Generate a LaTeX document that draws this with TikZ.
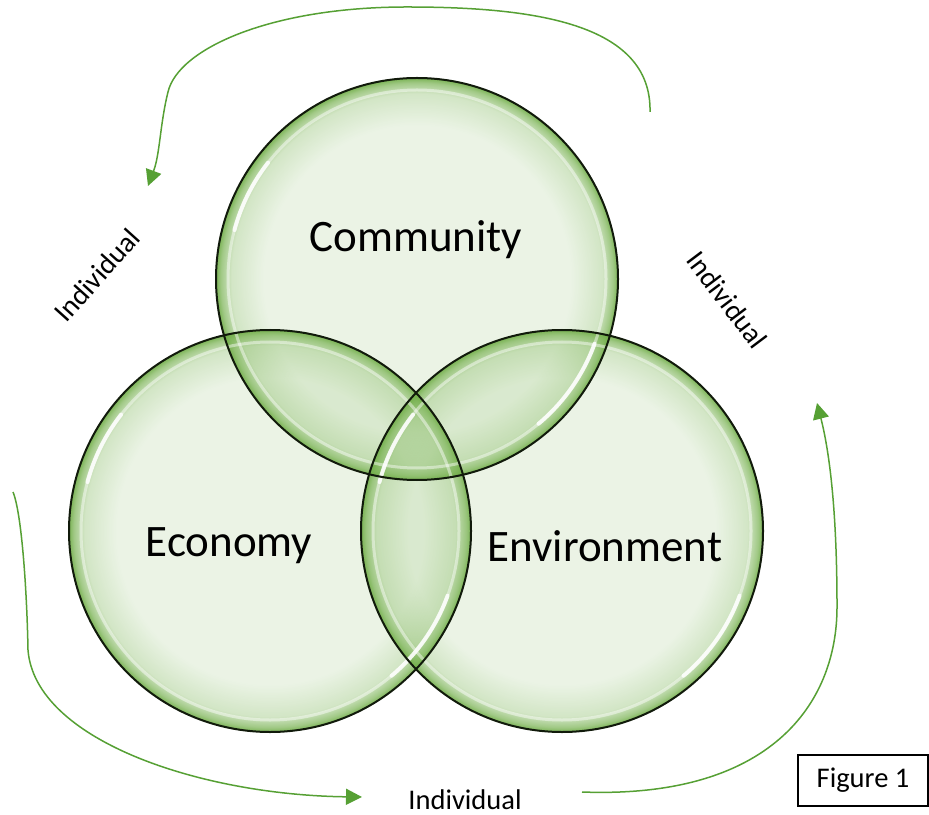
\documentclass[tikz,border=0pt]{standalone}
\usepackage{fontspec}
\setmainfont{Carlito}
\usetikzlibrary{arrows.meta,fadings}

\definecolor{leafgreen}{RGB}{112,173,71}
\definecolor{arrowgreen}{RGB}{86,160,52}

% opaque only near the edge of the circle
\pgfdeclareradialshading{rimmask}{\pgfpointorigin}{color(0bp)=(black); color(19bp)=(black); color(23bp)=(black!80); color(24.3bp)=(black!40); color(25bp)=(black!5); color(50bp)=(black!5)}
\pgfdeclarefading{rimfade}{\pgfuseshading{rimmask}}

\begin{document}
\begin{tikzpicture}[x=0.5pt,y=0.5pt,
    base/.style={fill=leafgreen,fill opacity=0.14},
    rim/.style={fill=leafgreen,path fading=rimfade},
    shine/.style={draw=white,line width=1.5pt,draw opacity=0.45},
    gleam/.style={draw=white,line width=2pt,draw opacity=0.85,line cap=round},
    ring/.style={draw=black!85!leafgreen,line width=1pt},
    bigtxt/.style={font=\fontsize{22.5}{27}\selectfont},
    smalltxt/.style={font=\fontsize{14.25}{17}\selectfont},
    flow/.style={draw=arrowgreen,line width=0.75pt,-{Triangle[length=8pt,width=8pt]}}]
    \useasboundingbox (0,0) rectangle (929,814);

    \coordinate (com) at (417,535);
    \coordinate (eco) at (270,283);
    \coordinate (env) at (562,283);

    % glass bubbles
    \foreach \c in {com,eco,env} \fill[base] (\c) circle (201);
    \foreach \c in {com,eco,env} \fill[rim] (\c) circle (201);
    \foreach \c in {com,eco,env} \draw[shine] (\c) circle (189);
    \foreach \c in {com,eco,env} {
        \draw[gleam] (\c) ++(165:189) arc[start angle=165, end angle=142, radius=189];
        \draw[gleam] (\c) ++(-50:189) arc[start angle=-50, end angle=-20, radius=189];
    }
    \foreach \c in {com,eco,env} \draw[ring] (\c) circle (201);

    \node[bigtxt] (comtxt) at (416,574) {Community};
    \node[bigtxt] (ecotxt) at (229,268) {Economy};
    \node[bigtxt] (envtxt) at (605,268) {Environment};

    \node[smalltxt,rotate=48] (indl) at (97,539) {Individual};
    \node[smalltxt,rotate=-53] (indr) at (727,514) {Individual};
    \node[smalltxt] (indb) at (465,14) {Individual};

    \node[draw,line width=0.6pt,minimum width=65pt,minimum height=25.5pt,smalltxt] (fig) at (863,33.5) {Figure 1};

    % the cycle round the bubbles
    \coordinate (topA) at (650,702);
    \coordinate (topB) at (148,628);
    \coordinate (leftA) at (13,322);
    \coordinate (leftB) at (362,17);
    \coordinate (rightA) at (582,22);
    \coordinate (rightB) at (817,411);
    \draw[flow] (topA) .. controls (652,792) and (530,807) .. (407,807)
        .. controls (270,807) and (178,765) .. (168,722)
        .. controls (160,690) and (160,660) .. (topB);
    \draw[flow] (leftA) .. controls (22,300) and (27,220) .. (28,164)
        .. controls (35,74) and (200,19) .. (leftB);
    \draw[flow] (rightA) .. controls (770,15) and (837,110) .. (837,207)
        .. controls (837,300) and (830,360) .. (rightB);
\end{tikzpicture}
\end{document}
